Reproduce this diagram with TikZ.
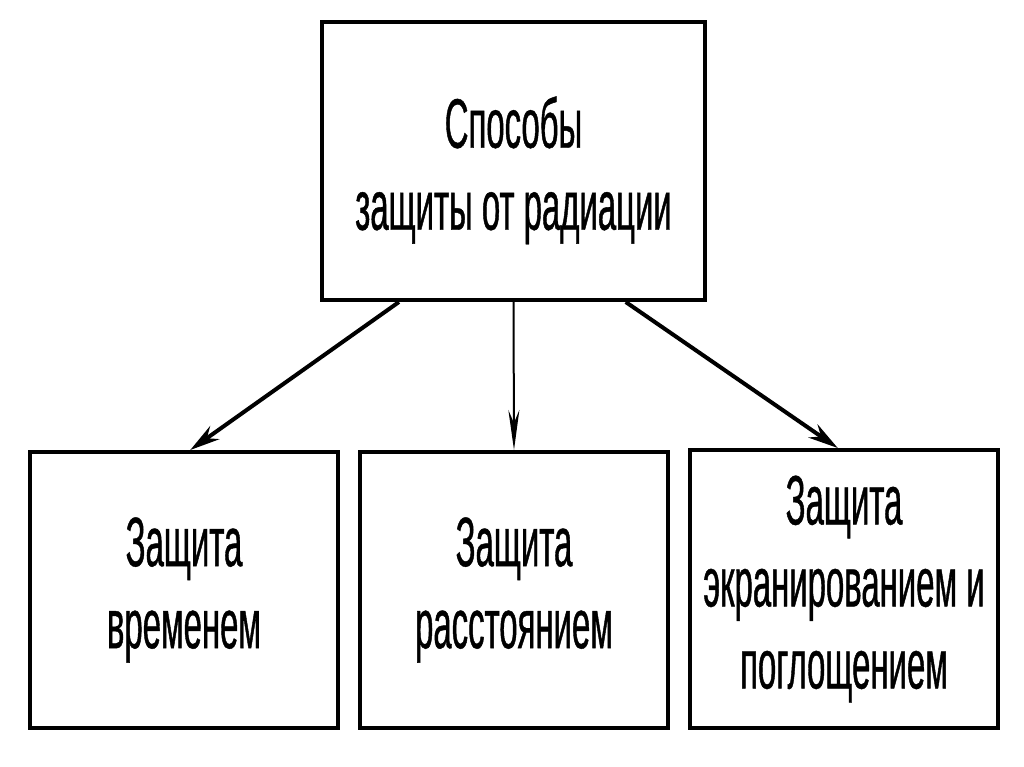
\documentclass[tikz,border=0pt]{standalone}
\usepackage{fontspec}
\setmainfont[FakeStretch=0.47,FakeBold=0.6]{Liberation Sans}
\usetikzlibrary{arrows.meta,calc}
\begin{document}
\begin{tikzpicture}[x=1pt,y=-1pt,
  box/.style={draw=black,line width=4pt,fill=white,align=center,inner sep=0pt,
    font=\fontsize{70}{82}\selectfont},
  thick arrow/.style={line width=4pt,-{Stealth[length=30pt,width=16pt]}},
  thin arrow/.style={line width=2pt,-{Stealth[length=40pt,width=11pt]}}]
\useasboundingbox[fill=white] (0,0) rectangle (1024,767);
\node[box,minimum width=383pt,minimum height=278pt] (top) at (513.5,161) {\rule{0pt}{70pt}Способы\\защиты от радиации};
\node[box,minimum width=308pt,minimum height=276pt] (left) at (184,590) {Защита\\временем};
\node[box,minimum width=308pt,minimum height=276pt] (mid) at (514,590) {Защита\\расстоянием};
\node[box,minimum width=308pt,minimum height=278pt] (right) at (844,589) {Защита\\экранированием и\\поглощением};
\draw[thick arrow] ($(top.south west)!0.204!(top.south east)$) -- ($(left.north west)!0.52!(left.north east)$);
\draw[thin arrow] (top.south) -- (mid.north);
\draw[thick arrow] ($(top.south west)!0.79!(top.south east)$) -- ($(right.north west)!0.48!(right.north east)$);
\end{tikzpicture}
\end{document}
